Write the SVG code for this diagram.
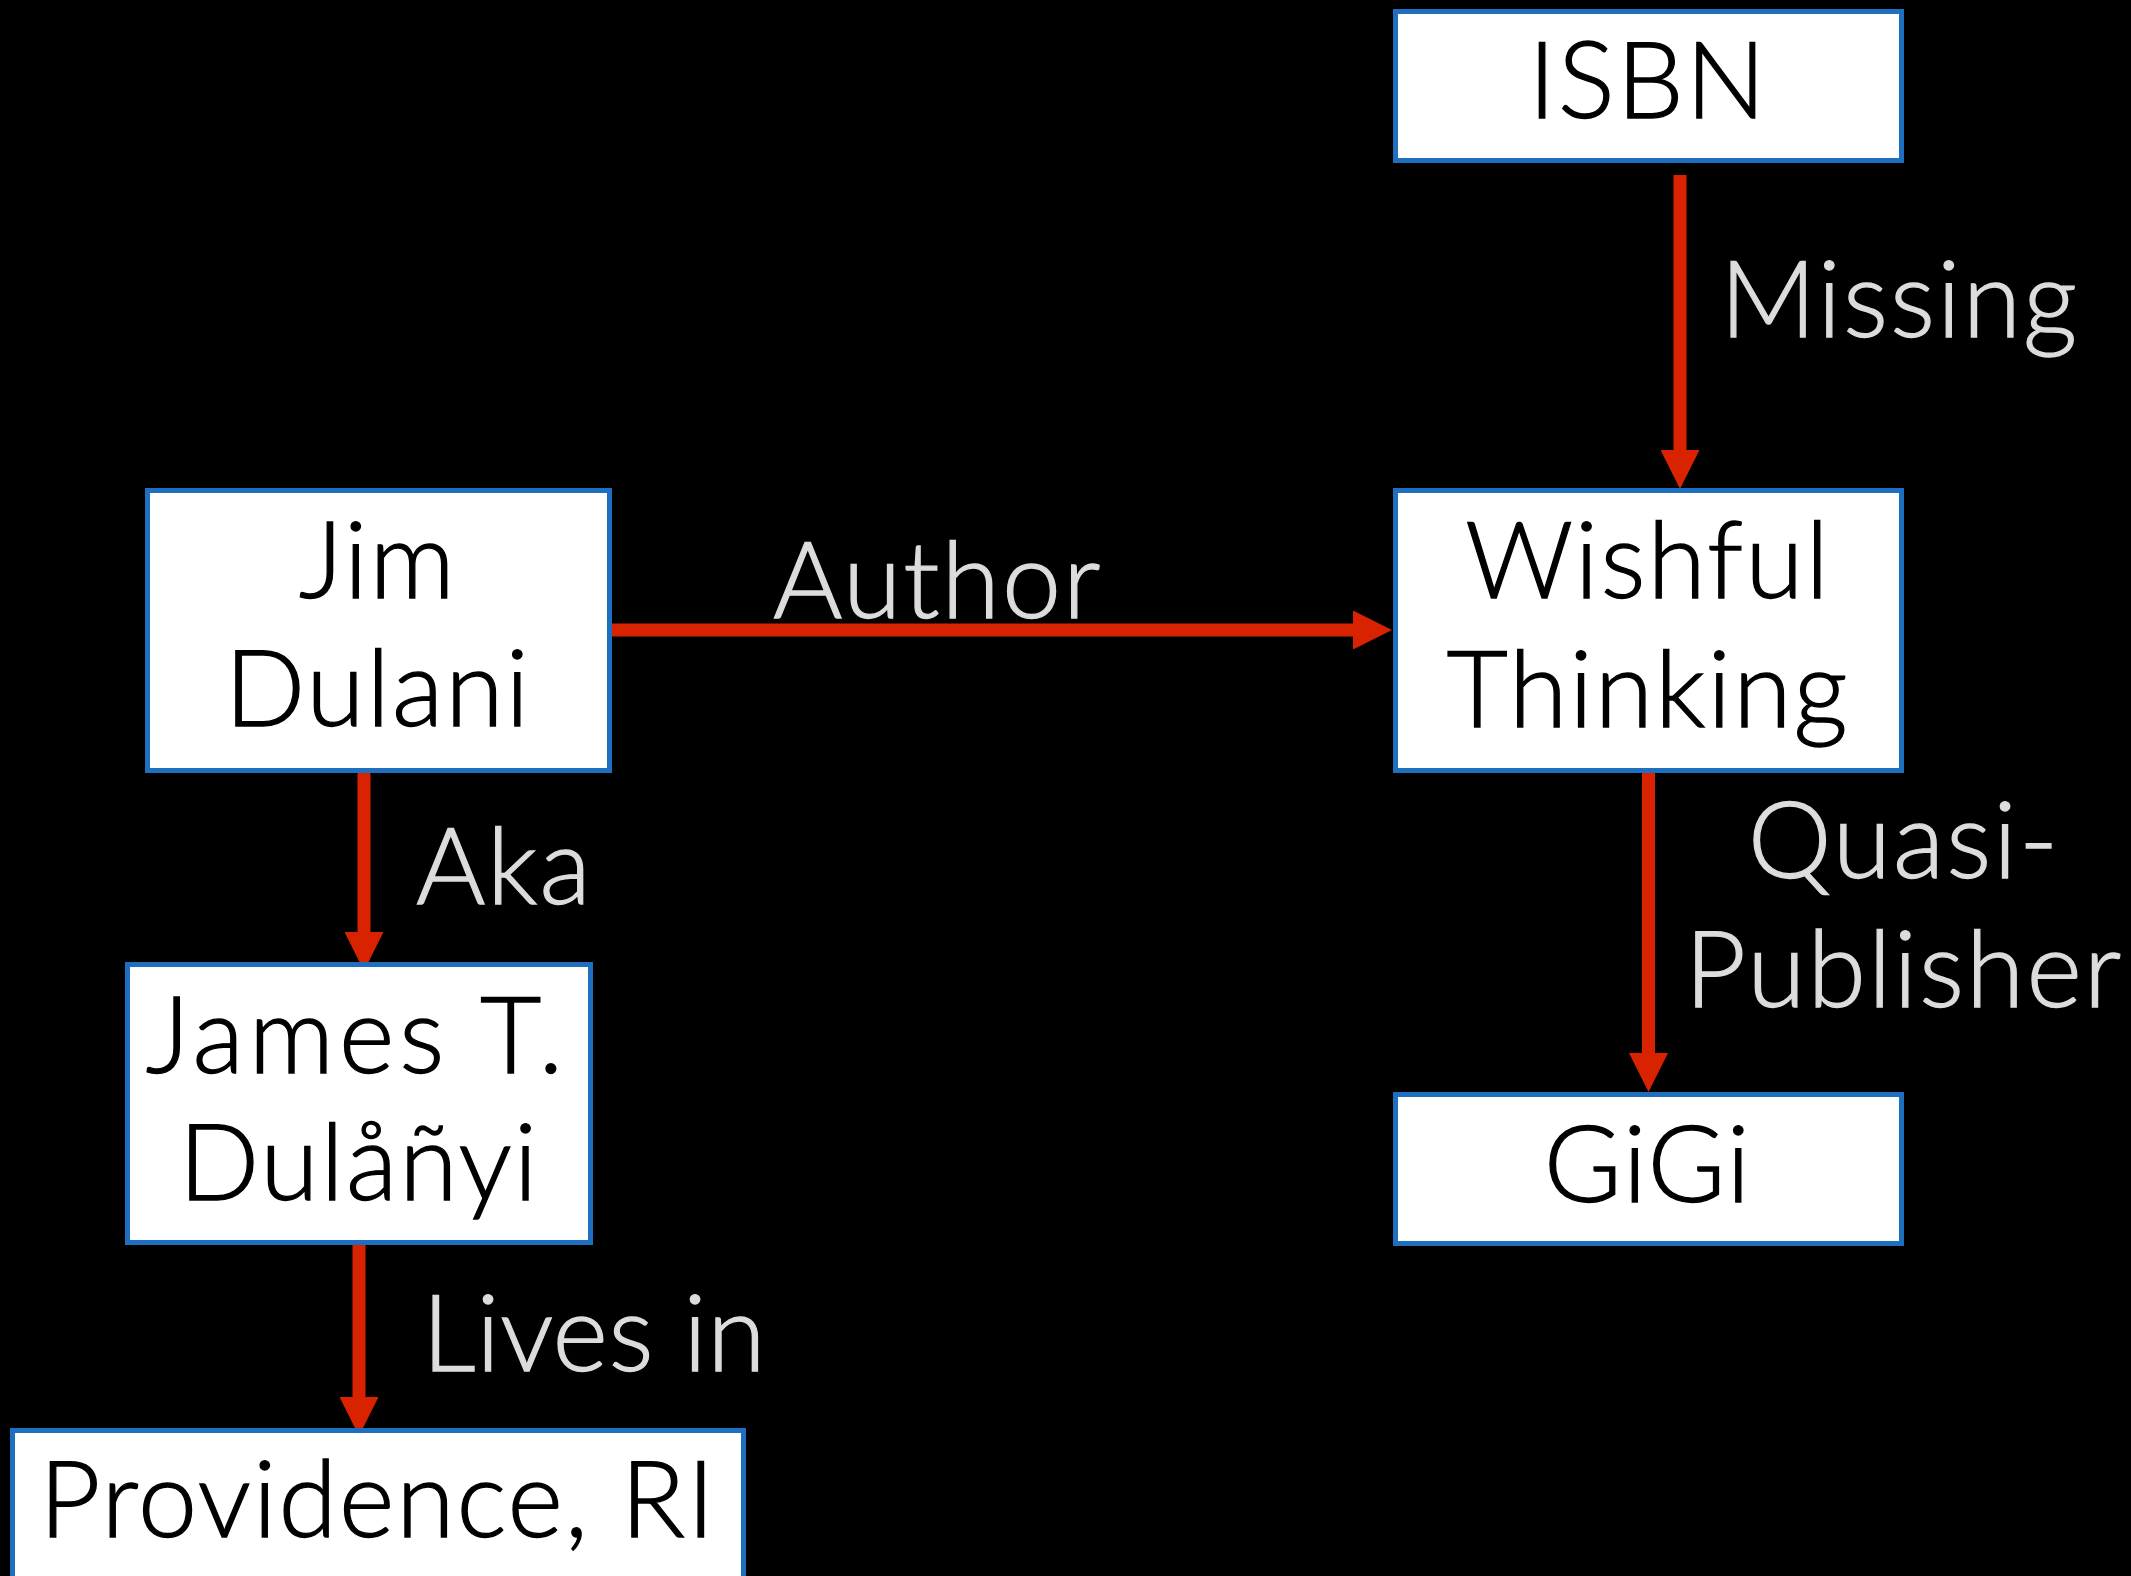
<svg xmlns="http://www.w3.org/2000/svg" width="2131" height="1576" viewBox="0 0 2131 1576">
  <style>
    .box { fill: #ffffff; stroke: #1f6fc0; stroke-width: 5; }
    .node-text { font-family: Lato, "Liberation Sans", sans-serif; font-weight: 300; font-size: 106px; letter-spacing: 2px; fill: #000000; stroke: #000000; stroke-width: 1.3; text-anchor: middle; }
    .edge { stroke: #d92300; stroke-width: 13; fill: none; marker-end: url(#arrow); }
    .edge-label { font-family: Lato, "Liberation Sans", sans-serif; font-weight: 300; font-size: 106px; letter-spacing: 2px; fill: #dcdcdc; stroke: #dcdcdc; stroke-width: 1.3; }
  </style>
  <defs>
    <marker id="arrow" markerUnits="userSpaceOnUse" markerWidth="39" markerHeight="39" refX="5" refY="19.5" orient="auto">
      <path d="M0,0 L39,19.5 L0,39 Z" fill="#d92300" stroke="none"/>
    </marker>
  </defs>
  <rect width="2131" height="1576" fill="#000000"/>

  <!-- connectors -->
  <g id="connectors">
    <line class="edge" x1="1680" y1="175" x2="1680" y2="455"/>
    <text class="edge-label" x="1720" y="337">Missing</text>
    <line class="edge" x1="612" y1="630" x2="1358" y2="630"/>
    <text class="edge-label" x="773" y="618">Author</text>
    <line class="edge" x1="364" y1="773" x2="364" y2="937"/>
    <text class="edge-label" x="416" y="904">Aka</text>
    <line class="edge" x1="359" y1="1245" x2="359" y2="1402"/>
    <text class="edge-label" x="422" y="1371" style="letter-spacing:0.5px">Lives in</text>
    <line class="edge" x1="1648.5" y1="772" x2="1648.5" y2="1058"/>
    <text class="edge-label" x="1904" y="878" text-anchor="middle">Quasi-</text>
    <text class="edge-label" x="1904" y="1007" text-anchor="middle">Publisher</text>
  </g>

  <!-- nodes -->
  <g id="isbn">
    <rect class="box" x="1395.5" y="11.5" width="506" height="149"/>
    <text class="node-text" x="1648" y="118">ISBN</text>
  </g>
  <g id="jim-dulani">
    <rect class="box" x="147.5" y="490.5" width="462" height="280"/>
    <text class="node-text" x="378" y="598">Jim</text>
    <text class="node-text" x="378" y="726">Dulani</text>
  </g>
  <g id="wishful-thinking">
    <rect class="box" x="1395.5" y="490.5" width="506" height="280"/>
    <text class="node-text" x="1648" y="598">Wishful</text>
    <text class="node-text" x="1648" y="727">Thinking</text>
  </g>
  <g id="james-dulanyi">
    <rect class="box" x="127.5" y="964.5" width="463" height="278"/>
    <text class="node-text" x="357" y="1073" style="letter-spacing:5px">James T.</text>
    <text class="node-text" x="359" y="1200">Dulåñyi</text>
  </g>
  <g id="gigi">
    <rect class="box" x="1395.5" y="1094.5" width="506" height="149"/>
    <text class="node-text" x="1648" y="1202">GiGi</text>
  </g>
  <g id="providence">
    <rect class="box" x="12.5" y="1430.5" width="731" height="200"/>
    <text class="node-text" x="378" y="1537">Providence, RI</text>
  </g>
</svg>
